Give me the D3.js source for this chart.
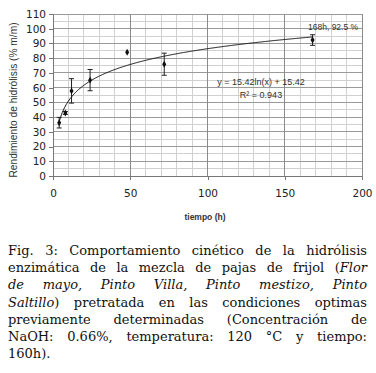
<!DOCTYPE html>
<html>
<head>
  <meta charset="utf-8">
  <title>Hidrólisis enzimática</title>
  <script src="https://d3js.org/d3.v7.min.js"></script>
  <style>
    body { margin: 0; overflow: hidden; background: #fff; }
    svg { display: block; }
    .cap { font-family: "DejaVu Serif", "DejaVu Sans", serif; }
  </style>
</head>
<body>
  <svg width="376" height="373"></svg>

  <script>
    // datos
    const tiempos = [4, 8, 12, 24, 48, 72, 168];
    const rendimientos = [36.2, 42.8, 57.8, 65.1, 84, 75.9, 92.3];
    const errores = [3.6, 1, 8.3, 7.2, 0, 7.5, 3.6];
    const xTicks = [0, 50, 100, 150, 200];
    const yTicks = [0, 10, 20, 30, 40, 50, 60, 70, 80, 90, 100, 110];
    // linea de tendencia logaritmica y = a ln(x) + b
    const coefA = 15.42;
    const coefB = 15.42;

    const captionLines = [
      [["Fig. 3: Comportamiento cinético de la hidrólisis", false]],
      [["enzimática de la mezcla de pajas de frijol (", false], ["Flor", true]],
      [["de mayo, Pinto Villa, Pinto mestizo, Pinto", true]],
      [["Saltillo", true], [") pretratada en las condiciones optimas", false]],
      [["previamente determinadas (Concentración de", false]],
      [["NaOH: 0.66%, temperatura:  120 °C y tiempo:", false]],
      [["160h).", false]]
    ];

    const sans = "'DejaVu Sans', sans-serif";
    const arial = "'Liberation Sans', Arial, sans-serif";

    const svg = d3.select("svg");
    const mLeft = 53, mRight = 362, mTop = 14, mBottom = 176;

    const x = d3.scaleLinear().domain([0, 200]).range([mLeft, mRight]);
    const y = d3.scaleLinear().domain([0, 110]).range([mBottom, mTop]);

    const g = svg.append("g");

    // rejilla menor
    g.selectAll(".vmin").data(d3.range(10, 201, 10).filter(d => d % 50))
      .join("line")
      .attr("x1", d => x(d)).attr("x2", d => x(d))
      .attr("y1", mTop).attr("y2", mBottom)
      .attr("stroke", "#d0d0d0").attr("shape-rendering", "crispEdges");
    g.selectAll(".hmin").data(d3.range(5, 111, 10))
      .join("line")
      .attr("x1", mLeft).attr("x2", mRight)
      .attr("y1", d => y(d)).attr("y2", d => y(d))
      .attr("stroke", "#d0d0d0").attr("shape-rendering", "crispEdges");
    // rejilla mayor
    g.selectAll(".hmaj").data(yTicks.slice(1))
      .join("line")
      .attr("x1", mLeft).attr("x2", mRight)
      .attr("y1", d => y(d)).attr("y2", d => y(d))
      .attr("stroke", "#9a9a9a").attr("shape-rendering", "crispEdges");
    g.selectAll(".vmaj").data(xTicks.slice(1))
      .join("line")
      .attr("x1", d => x(d)).attr("x2", d => x(d))
      .attr("y1", mTop).attr("y2", mBottom)
      .attr("stroke", "#8a8a8a").attr("shape-rendering", "crispEdges");

    // ejes
    const xAxis = d3.axisBottom(x).tickValues(xTicks).tickSize(4).tickPadding(10);
    const yAxis = d3.axisLeft(y).tickValues(yTicks).tickSize(4).tickPadding(3);

    const gx = svg.append("g").attr("transform", `translate(0,${mBottom})`).call(xAxis);
    const gy = svg.append("g").attr("transform", `translate(${mLeft},0)`).call(yAxis);
    [gx, gy].forEach(a => {
      a.select(".domain").attr("stroke", "#777").attr("shape-rendering", "crispEdges");
      a.selectAll(".tick line").attr("stroke", "#777").attr("shape-rendering", "crispEdges");
      a.selectAll("text")
        .attr("font-family", sans)
        .attr("font-size", 10.5)
        .attr("fill", "#222");
    });

    // titulos de ejes
    svg.append("text")
      .attr("x", 205).attr("y", 220)
      .attr("text-anchor", "middle")
      .attr("font-family", arial)
      .attr("font-size", 8.5).attr("font-weight", "bold").attr("fill", "#333")
      .text("tiempo (h)");
    svg.append("text")
      .attr("transform", "translate(17,100) rotate(-90)")
      .attr("text-anchor", "middle")
      .attr("font-family", arial)
      .attr("font-size", 10.2).attr("fill", "#333")
      .text("Rendimiento de hidrólisis (% m/m)");

    // linea de tendencia
    const xsTrend = d3.range(tiempos[0], tiempos[tiempos.length - 1] + 0.01, 0.5);
    const trend = d3.line()
      .x(d => x(d))
      .y(d => y(coefA * Math.log(d) + coefB));
    g.append("path")
      .attr("d", trend(xsTrend))
      .attr("fill", "none")
      .attr("stroke", "#111")
      .attr("stroke-width", 1);

    // barras de error
    const datos = tiempos.map((t, i) => ({ t, v: rendimientos[i], e: errores[i] }));
    const eb = g.selectAll(".eb").data(datos.filter(d => d.e > 0)).join("g");
    eb.append("line")
      .attr("x1", d => x(d.t)).attr("x2", d => x(d.t))
      .attr("y1", d => y(d.v + d.e)).attr("y2", d => y(d.v - d.e))
      .attr("stroke", "#222");
    [1, -1].forEach(s => {
      eb.append("line")
        .attr("x1", d => x(d.t) - 2.5).attr("x2", d => x(d.t) + 2.5)
        .attr("y1", d => y(d.v + s * d.e)).attr("y2", d => y(d.v + s * d.e))
        .attr("stroke", "#222");
    });

    // puntos
    g.selectAll(".pt").data(datos)
      .join("path")
      .attr("transform", d => `translate(${x(d.t)},${y(d.v)})`)
      .attr("d", d3.symbol().type(d3.symbolDiamond).size(14))
      .attr("fill", "#111");

    // anotaciones
    svg.append("text").attr("x", 308).attr("y", 30)
      .attr("font-family", arial).attr("font-size", 8.5).attr("fill", "#333")
      .text(`${tiempos[6]}h, 92.5 %`);
    svg.append("text").attr("x", 261).attr("y", 85).attr("text-anchor", "middle")
      .attr("font-family", arial).attr("font-size", 9).attr("fill", "#333")
      .text(`y = ${coefA}ln(x) + ${coefB}`);
    svg.append("text").attr("x", 261).attr("y", 98).attr("text-anchor", "middle")
      .attr("font-family", arial).attr("font-size", 9).attr("fill", "#333")
      .text("R² = 0.943");

    // pie de figura justificado
    const capLeft = 8, capRight = 367, capTop = 255, lineH = 17.2;
    captionLines.forEach((segs, li) => {
      // grupos de piezas separados por espacios; piezas pegadas comparten grupo
      const groups = [];
      let prevEndsSpace = true;
      segs.forEach(([txt, it]) => {
        const parts = txt.split(" ");
        parts.forEach((p, k) => {
          if (p !== "") {
            if (k === 0 && !prevEndsSpace && groups.length) groups[groups.length - 1].push({ p, it });
            else groups.push([{ p, it }]);
          }
        });
        prevEndsSpace = txt.endsWith(" ");
      });
      const yy = capTop + li * lineH;
      const tg = svg.append("g");
      groups.forEach(gr => gr.forEach(w => {
        w.el = tg.append("text")
          .attr("class", "cap")
          .attr("y", yy)
          .style("font-size", "13px")
          .style("font-style", w.it ? "italic" : "normal")
          .attr("fill", "#111")
          .text(w.p);
        w.w = w.el.node().getComputedTextLength();
      }));
      const gw = groups.map(gr => d3.sum(gr, w => w.w));
      const last = li === captionLines.length - 1;
      const gap = last || groups.length < 2 ? 4.5
        : (capRight - capLeft - d3.sum(gw)) / (groups.length - 1);
      let cx = capLeft;
      groups.forEach(gr => {
        gr.forEach(w => { w.el.attr("x", cx); cx += w.w; });
        cx += gap;
      });
    });
  </script>
</body>
</html>
